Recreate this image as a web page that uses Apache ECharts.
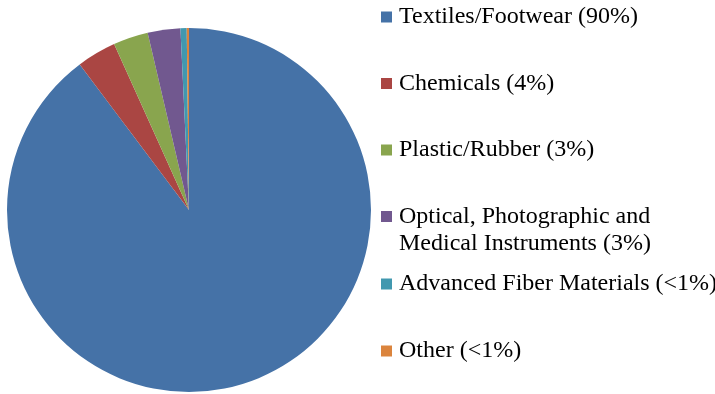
<!DOCTYPE html>
<html>
<head>
<meta charset="utf-8">
<script src="https://cdn.jsdelivr.net/npm/echarts@6/dist/echarts.min.js"></script>
<style>
  html, body { margin: 0; padding: 0; background: #fff; }
  #main { width: 715px; height: 394px; }
</style>
</head>
<body>
<div id="main"></div>
<script>
// 数据
var categories = [
    'Textiles/Footwear (90%)',
    'Chemicals (4%)',
    'Plastic/Rubber (3%)',
    'Optical, Photographic and Medical Instruments (3%)',
    'Advanced Fiber Materials (<1%)',
    'Other (<1%)'
];
// 图例第一行 / 第二行
var legendLines = [
    ['Textiles/Footwear (90%)'],
    ['Chemicals (4%)'],
    ['Plastic/Rubber (3%)'],
    ['Optical, Photographic and', 'Medical Instruments (3%)'],
    ['Advanced Fiber Materials (<1%)'],
    ['Other (<1%)']
];
var shares = [89.75, 3.5, 3.1, 2.9, 0.55, 0.2];
var colors = ['#4572A7', '#AA4643', '#89A54E', '#71588F', '#4198AF', '#DB843D'];

var myChart = echarts.init(document.getElementById('main'));

var fontFamily = '"Liberation Serif", "Times New Roman", serif';
var fontSize = 24;
var lineH = 27.5;

// 图例：每项单独放置
var markerCenters = [17, 83.5, 150, 216.5, 284, 351];
var legends = categories.map(function(name, i){
    return {
        left: 381,
        top: markerCenters[i] - lineH / 2,
        padding: 0,
        orient: 'vertical',
        icon: 'rect',
        itemWidth: 11,
        itemHeight: 11,
        selectedMode: false,
        data: [name],
        formatter: function(){ return legendLines[i][0]; },
        textStyle: {
            fontFamily: fontFamily,
            fontSize: fontSize,
            lineHeight: lineH,
            color: '#000',
            padding: [0, 0, 0, 2]
        }
    };
});

// 两行图例的第二行
var extraLines = [];
legendLines.forEach(function(lines, i){
    for (var k = 1; k < lines.length; k++) {
        extraLines.push({
            type: 'text',
            x: 399,
            y: markerCenters[i] + k * lineH,
            style: {
                text: lines[k],
                font: fontSize + 'px ' + fontFamily,
                fill: '#000',
                verticalAlign: 'middle',
                align: 'left'
            }
        });
    }
});

var option = {
    animation: false,
    color: colors,
    legend: legends,
    graphic: extraLines,
    series: [{
        type: 'pie',
        center: [189, 210],
        radius: 182,
        startAngle: 90,
        clockwise: true,
        label: { show: false },
        labelLine: { show: false },
        emphasis: { disabled: true },
        data: categories.map(function(name, i){
            return { name: name, value: shares[i] };
        })
    }]
};
myChart.setOption(option);
</script>
</body>
</html>
